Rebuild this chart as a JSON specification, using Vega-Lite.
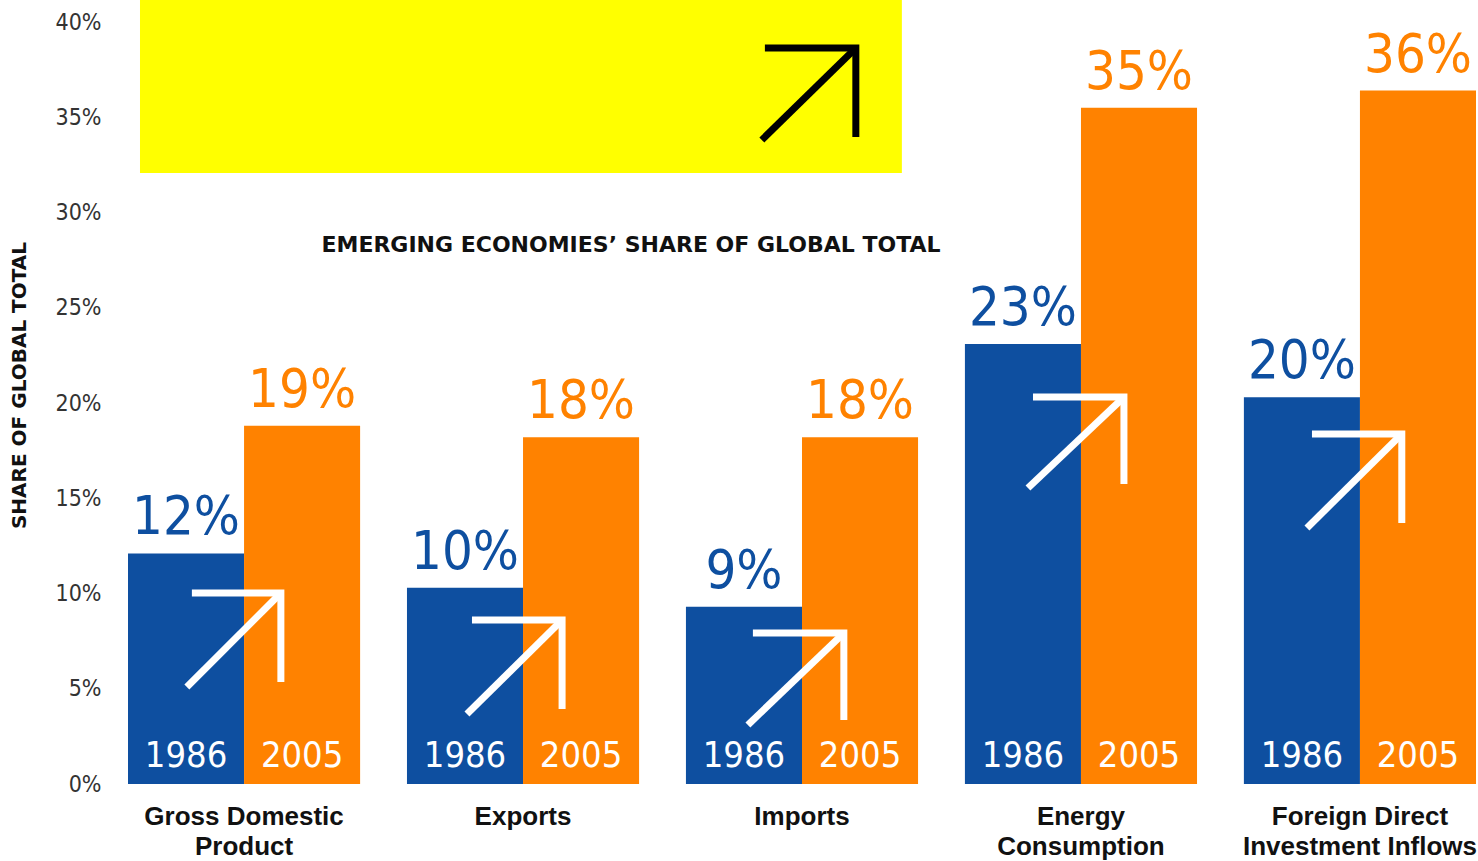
{
  "$schema": "https://vega.github.io/schema/vega-lite/v6.json",
  "description": "Emerging economies' share of global total, 1986 vs 2005",
  "width": 1348,
  "height": 762,
  "autosize": {"type": "none"},
  "padding": {"left": 128, "top": 22, "right": 2, "bottom": 77},
  "background": "#ffffff",
  "config": {"view": {"stroke": null}},
  "datasets": {
    "bars": [
      {"category": "Gross Domestic Product", "year": "1986", "share": 12.1, "label": "12%"},
      {"category": "Gross Domestic Product", "year": "2005", "share": 18.8, "label": "19%"},
      {"category": "Exports", "year": "1986", "share": 10.3, "label": "10%"},
      {"category": "Exports", "year": "2005", "share": 18.2, "label": "18%"},
      {"category": "Imports", "year": "1986", "share": 9.3, "label": "9%"},
      {"category": "Imports", "year": "2005", "share": 18.2, "label": "18%"},
      {"category": "Energy Consumption", "year": "1986", "share": 23.1, "label": "23%"},
      {"category": "Energy Consumption", "year": "2005", "share": 35.5, "label": "35%"},
      {"category": "Foreign Direct Investment Inflows", "year": "1986", "share": 20.3, "label": "20%"},
      {"category": "Foreign Direct Investment Inflows", "year": "2005", "share": 36.4, "label": "36%"}
    ],
    "arrows": [
      {"arrow": "gdp", "seg": "head", "i": 0, "u": 0.229, "v": 10.03},
      {"arrow": "gdp", "seg": "head", "i": 1, "u": 0.548, "v": 10.03},
      {"arrow": "gdp", "seg": "head", "i": 2, "u": 0.548, "v": 5.35},
      {"arrow": "gdp", "seg": "shaft", "i": 0, "u": 0.211, "v": 5.09},
      {"arrow": "gdp", "seg": "shaft", "i": 1, "u": 0.548, "v": 10.03},
      {"arrow": "exp", "seg": "head", "i": 0, "u": 1.233, "v": 8.61},
      {"arrow": "exp", "seg": "head", "i": 1, "u": 1.556, "v": 8.61},
      {"arrow": "exp", "seg": "head", "i": 2, "u": 1.556, "v": 3.94},
      {"arrow": "exp", "seg": "shaft", "i": 0, "u": 1.215, "v": 3.67},
      {"arrow": "exp", "seg": "shaft", "i": 1, "u": 1.556, "v": 8.61},
      {"arrow": "imp", "seg": "head", "i": 0, "u": 2.240, "v": 7.93},
      {"arrow": "imp", "seg": "head", "i": 1, "u": 2.566, "v": 7.93},
      {"arrow": "imp", "seg": "head", "i": 2, "u": 2.566, "v": 3.36},
      {"arrow": "imp", "seg": "shaft", "i": 0, "u": 2.222, "v": 3.10},
      {"arrow": "imp", "seg": "shaft", "i": 1, "u": 2.566, "v": 7.93},
      {"arrow": "ene", "seg": "head", "i": 0, "u": 3.244, "v": 20.31},
      {"arrow": "ene", "seg": "head", "i": 1, "u": 3.570, "v": 20.31},
      {"arrow": "ene", "seg": "head", "i": 2, "u": 3.570, "v": 15.75},
      {"arrow": "ene", "seg": "shaft", "i": 0, "u": 3.226, "v": 15.54},
      {"arrow": "ene", "seg": "shaft", "i": 1, "u": 3.570, "v": 20.31},
      {"arrow": "fdi", "seg": "head", "i": 0, "u": 4.244, "v": 18.37},
      {"arrow": "fdi", "seg": "head", "i": 1, "u": 4.566, "v": 18.37},
      {"arrow": "fdi", "seg": "head", "i": 2, "u": 4.566, "v": 13.70},
      {"arrow": "fdi", "seg": "shaft", "i": 0, "u": 4.226, "v": 13.44},
      {"arrow": "fdi", "seg": "shaft", "i": 1, "u": 4.566, "v": 18.37}
    ],
    "blackArrow": [
      {"seg": "head", "i": 0, "u": 2.283, "v": 38.64},
      {"seg": "head", "i": 1, "u": 2.609, "v": 38.64},
      {"seg": "head", "i": 2, "u": 2.609, "v": 33.96},
      {"seg": "shaft", "i": 0, "u": 2.272, "v": 33.81},
      {"seg": "shaft", "i": 1, "u": 2.609, "v": 38.64}
    ],
    "panel": [
      {"u": 0.043, "u2": 2.774, "v": 32.07, "v2": 41.15}
    ],
    "heading": [
      {"text": "EMERGING ECONOMIES’ SHARE OF GLOBAL TOTAL", "u": 1.803, "v": 28.29}
    ]
  },
  "layer": [
    {
      "data": {"name": "bars"},
      "encoding": {
        "x": {
          "field": "category",
          "type": "nominal",
          "sort": null,
          "scale": {"paddingInner": 0.168, "paddingOuter": 0},
          "axis": {
            "title": null,
            "domain": false,
            "ticks": false,
            "tickSize": 0,
            "labelAngle": 0,
            "labelPadding": 19,
            "labelBaseline": "top",
            "labelFont": "Liberation Sans",
            "labelFontWeight": "bold",
            "labelFontSize": 26,
            "labelColor": "#111111",
            "labelLineHeight": 30,
            "labelLimit": 400,
            "labelExpr": "datum.value == 'Gross Domestic Product' ? ['Gross Domestic', 'Product'] : datum.value == 'Energy Consumption' ? ['Energy', 'Consumption'] : datum.value == 'Foreign Direct Investment Inflows' ? ['Foreign Direct', 'Investment Inflows'] : datum.value"
          }
        },
        "xOffset": {
          "field": "year",
          "type": "nominal",
          "scale": {"paddingInner": 0, "paddingOuter": 0}
        },
        "y": {
          "field": "share",
          "type": "quantitative",
          "scale": {"domain": [0, 40], "nice": false, "zero": true},
          "axis": {
            "title": "SHARE OF GLOBAL TOTAL",
            "titleFont": "DejaVu Sans",
            "titleFontWeight": "bold",
            "titleFontSize": 20,
            "titleColor": "#111111",
            "titleAngle": -90,
            "titleAlign": "center",
            "titleBaseline": "middle",
            "titleX": -109,
            "titleY": 363,
            "values": [0, 5, 10, 15, 20, 25, 30, 35, 40],
            "labelExpr": "datum.value + '%'",
            "labelFont": "Liberation Sans Narrow, DejaVu Sans Condensed, sans-serif",
            "labelFontSize": 23,
            "labelColor": "#333333",
            "labelPadding": 27,
            "domain": false,
            "ticks": false,
            "tickSize": 0,
            "grid": false
          }
        },
        "color": {
          "field": "year",
          "type": "nominal",
          "scale": {"domain": ["1986", "2005"], "range": ["#0E4FA0", "#FF8200"]},
          "legend": null
        }
      },
      "layer": [
        {"mark": {"type": "bar", "width": {"band": 1}}},
        {
          "mark": {
            "type": "text",
            "baseline": "alphabetic",
            "align": "center",
            "dy": -19,
            "font": "Liberation Sans Narrow, DejaVu Sans Condensed, sans-serif",
            "fontSize": 54
          },
          "encoding": {"text": {"field": "label"}}
        },
        {
          "mark": {
            "type": "text",
            "baseline": "alphabetic",
            "align": "center",
            "dy": -17,
            "font": "Liberation Sans Narrow, DejaVu Sans Condensed, sans-serif",
            "fontSize": 36
          },
          "encoding": {
            "y": {"datum": 0},
            "text": {"field": "year"},
            "color": {"value": "#ffffff"}
          }
        }
      ]
    },
    {
      "layer": [
        {
          "data": {"name": "panel"},
          "mark": {"type": "rect", "color": "#FFFF00"},
          "encoding": {
            "x": {"field": "u", "type": "quantitative", "scale": {"domain": [0, 4.832], "nice": false, "zero": true}, "axis": null},
            "x2": {"field": "u2"},
            "y": {"field": "v", "type": "quantitative"},
            "y2": {"field": "v2"}
          }
        },
        {
          "data": {"name": "blackArrow"},
          "mark": {"type": "line", "color": "#000000", "strokeWidth": 7, "strokeCap": "butt", "strokeJoin": "miter"},
          "encoding": {
            "x": {"field": "u", "type": "quantitative", "axis": null},
            "y": {"field": "v", "type": "quantitative"},
            "detail": {"field": "seg"},
            "order": {"field": "i"}
          }
        },
        {
          "data": {"name": "arrows"},
          "mark": {"type": "line", "color": "#ffffff", "strokeWidth": 7, "strokeCap": "butt", "strokeJoin": "miter"},
          "encoding": {
            "x": {"field": "u", "type": "quantitative", "axis": null},
            "y": {"field": "v", "type": "quantitative"},
            "detail": [{"field": "arrow"}, {"field": "seg"}],
            "order": {"field": "i"}
          }
        },
        {
          "data": {"name": "heading"},
          "mark": {
            "type": "text",
            "font": "DejaVu Sans",
            "fontWeight": "bold",
            "fontSize": 22,
            "color": "#111111",
            "align": "center",
            "baseline": "middle"
          },
          "encoding": {
            "x": {"field": "u", "type": "quantitative", "axis": null},
            "y": {"field": "v", "type": "quantitative"},
            "text": {"field": "text"}
          }
        }
      ]
    }
  ],
  "resolve": {"scale": {"x": "independent"}}
}
